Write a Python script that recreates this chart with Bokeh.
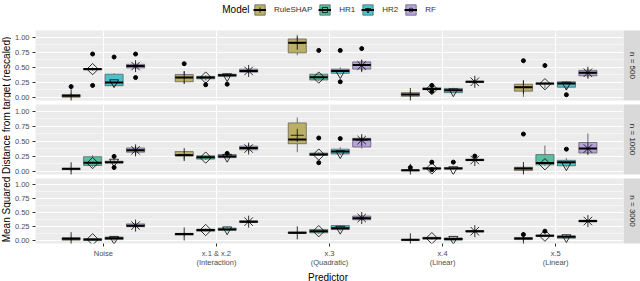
import math
from bokeh.plotting import figure
from bokeh.models import (ColumnDataSource, Range1d, FixedTicker, Legend, LegendItem, Label,
                          NumeralTickFormatter)
from bokeh.layouts import row, column
from bokeh.transform import dodge
from bokeh.embed import file_html
from bokeh.resources import INLINE

# ---------------- data ----------------
PREDICTORS = ["Noise", "x.1 & x.2\n(Interaction)", "x.3\n(Quadratic)", "x.4\n(Linear)", "x.5\n(Linear)"]
XI = [1, 2, 3, 4, 5]
MODELS = ["RuleSHAP", "HR1", "HR2", "RF"]
PANELS = ["n = 500", "n = 1000", "n = 3000"]
COLORS = ["#B6A856", "#45BA98", "#38BCC8", "#AF9AD9"]
MARKERS = ["cross", "square", "inverted_triangle", "asterisk"]

# rows = models (RuleSHAP, HR1, HR2, RF), columns = predictors
q1_500 = [[0.005, 0.26, 0.74, 0.02, 0.105], [0.455, 0.31, 0.29, 0.13, 0.22],
          [0.195, 0.35, 0.40, 0.08, 0.17], [0.49, 0.42, 0.47, 0.25, 0.36]]
med_500 = [[0.03, 0.33, 0.905, 0.05, 0.17], [0.47, 0.33, 0.335, 0.14, 0.23],
           [0.25, 0.37, 0.44, 0.12, 0.23], [0.52, 0.44, 0.54, 0.26, 0.41]]
q3_500 = [[0.05, 0.38, 0.97, 0.08, 0.22], [0.48, 0.35, 0.385, 0.16, 0.235],
          [0.385, 0.385, 0.47, 0.15, 0.26], [0.55, 0.47, 0.59, 0.27, 0.45]]
lo_500 = [[0.0, 0.24, 0.70, 0.0, 0.01], [0.44, 0.28, 0.27, 0.11, 0.15],
          [0.17, 0.33, 0.38, 0.07, 0.12], [0.46, 0.40, 0.42, 0.22, 0.33]]
hi_500 = [[0.07, 0.43, 1.04, 0.10, 0.29], [0.50, 0.37, 0.40, 0.18, 0.25],
          [0.40, 0.40, 0.50, 0.16, 0.27], [0.58, 0.49, 0.62, 0.30, 0.48]]
mean_500 = [[0.03, 0.33, 0.90, 0.05, 0.17], [0.47, 0.33, 0.33, 0.14, 0.22],
            [0.25, 0.35, 0.40, 0.10, 0.21], [0.52, 0.44, 0.53, 0.26, 0.41]]
out_500 = [[(1, 0.18), (2, 0.56), (5, 0.61)],
           [(1, 0.72), (1, 0.20), (2, 0.21), (3, 0.78), (4, 0.20), (4, 0.10), (5, 0.53)],
           [(1, 0.67), (2, 0.22), (3, 0.78), (3, 0.26), (5, 0.045)],
           [(1, 0.72), (1, 0.33), (3, 0.81)]]

q1_1000 = [[0.03, 0.26, 0.46, 0.01, 0.015], [0.10, 0.205, 0.27, 0.045, 0.11],
           [0.14, 0.23, 0.29, 0.045, 0.095], [0.32, 0.36, 0.405, 0.18, 0.305]]
med_1000 = [[0.045, 0.27, 0.53, 0.02, 0.05], [0.145, 0.235, 0.28, 0.05, 0.14],
            [0.155, 0.25, 0.33, 0.05, 0.155], [0.35, 0.39, 0.53, 0.19, 0.38]]
q3_1000 = [[0.05, 0.33, 0.805, 0.025, 0.07], [0.245, 0.26, 0.305, 0.06, 0.28],
           [0.17, 0.28, 0.37, 0.065, 0.185], [0.39, 0.42, 0.55, 0.205, 0.48]]
lo_1000 = [[0.0, 0.20, 0.32, 0.0, 0.0], [0.07, 0.19, 0.26, 0.04, 0.09],
           [0.12, 0.21, 0.27, 0.03, 0.07], [0.28, 0.33, 0.38, 0.17, 0.28]]
hi_1000 = [[0.06, 0.34, 0.895, 0.04, 0.10], [0.27, 0.27, 0.32, 0.07, 0.43],
           [0.20, 0.30, 0.40, 0.08, 0.22], [0.42, 0.45, 0.58, 0.22, 0.63]]
mean_1000 = [[0.045, 0.28, 0.60, 0.02, 0.05], [0.14, 0.23, 0.28, 0.05, 0.12],
             [0.16, 0.24, 0.30, 0.035, 0.10], [0.35, 0.38, 0.52, 0.19, 0.38]]
out_1000 = [[(4, 0.065), (5, 0.62)],
            [(3, 0.555), (3, 0.145), (4, 0.155), (4, 0.03)],
            [(1, 0.25), (1, 0.065), (2, 0.30), (3, 0.545), (4, 0.155), (5, 0.37)],
            [(4, 0.255)]]

q1_3000 = [[0.01, 0.10, 0.13, 0.005, 0.02], [0.005, 0.17, 0.14, 0.03, 0.08],
           [0.02, 0.19, 0.20, 0.01, 0.045], [0.25, 0.325, 0.375, 0.155, 0.335]]
med_3000 = [[0.035, 0.12, 0.14, 0.015, 0.04], [0.02, 0.19, 0.17, 0.045, 0.09],
            [0.045, 0.20, 0.22, 0.03, 0.07], [0.265, 0.34, 0.40, 0.17, 0.35]]
q3_3000 = [[0.055, 0.13, 0.155, 0.02, 0.055], [0.035, 0.205, 0.20, 0.06, 0.10],
           [0.065, 0.225, 0.27, 0.05, 0.085], [0.30, 0.355, 0.44, 0.18, 0.365]]
lo_3000 = [[0.0, 0.08, 0.12, 0.0, 0.0], [0.0, 0.16, 0.12, 0.02, 0.07],
           [0.0, 0.17, 0.18, 0.0, 0.03], [0.22, 0.31, 0.36, 0.14, 0.32]]
hi_3000 = [[0.07, 0.14, 0.16, 0.05, 0.07], [0.05, 0.22, 0.21, 0.07, 0.11],
           [0.08, 0.24, 0.28, 0.06, 0.10], [0.33, 0.37, 0.46, 0.20, 0.38]]
mean_3000 = [[0.035, 0.12, 0.14, 0.015, 0.04], [0.025, 0.19, 0.17, 0.045, 0.09],
             [0.03, 0.20, 0.21, 0.03, 0.06], [0.27, 0.34, 0.405, 0.17, 0.35]]
out_3000 = [[(5, 0.11)], [(5, 0.17)], [], []]

STATS = [
    (q1_500, med_500, q3_500, lo_500, hi_500, mean_500, out_500),
    (q1_1000, med_1000, q3_1000, lo_1000, hi_1000, mean_1000, out_1000),
    (q1_3000, med_3000, q3_3000, lo_3000, hi_3000, mean_3000, out_3000),
]

# ---------------- style / layout ----------------
FONT = "Liberation Sans"
OFFSETS = [-0.285, -0.095, 0.095, 0.285]
BW = 0.16
MSIZE = [13, 8, 9, 12]
W = 640
YLAB_W = 11
STRIP_W = 17
PANEL_W = W - YLAB_W - STRIP_W
BL = 21
FRAME_H = 70
TOPS = [1, 2, 2]
BOTTOMS = [2, 2, 22]
LEG_H = 29
XLAB_H = 11


def stats_source(k, j):
    q1, med, q3, lo, hi, mean, outs = STATS[k]
    return ColumnDataSource(dict(x=XI, q1=q1[j], med=med[j], q3=q3[j], lo=lo[j], hi=hi[j], mean=mean[j]))


def box_glyphs(p, src, j):
    off = OFFSETS[j]
    rw1 = p.segment(x0=dodge("x", off), x1=dodge("x", off), y0="lo", y1="q1", source=src,
                    line_color="#333333", line_width=0.7)
    rw2 = p.segment(x0=dodge("x", off), x1=dodge("x", off), y0="q3", y1="hi", source=src,
                    line_color="#333333", line_width=0.7)
    rb = p.vbar(x=dodge("x", off), width=BW, bottom="q1", top="q3", source=src,
                fill_color=COLORS[j], fill_alpha=0.9, line_color="#555555", line_width=0.7)
    rm = p.segment(x0=dodge("x", off - BW / 2), x1=dodge("x", off + BW / 2), y0="med", y1="med",
                   source=src, line_color="black", line_width=2)
    return rb, rm


def mean_glyph(p, src, j):
    return p.scatter(x=dodge("x", OFFSETS[j]), y="mean", source=src, marker=MARKERS[j], size=MSIZE[j],
                     angle=(math.pi / 4 if MARKERS[j] == "square" else 0),
                     fill_color=None, line_color="black", line_width=0.8)


def make_panel(k):
    outs = STATS[k][6]
    h = TOPS[k] + FRAME_H + BOTTOMS[k]
    p = figure(width=PANEL_W, height=h, x_range=Range1d(0.4, 5.6), y_range=Range1d(-0.05, 1.11),
               output_backend="svg", toolbar_location=None,
               min_border_left=BL, min_border_right=0, min_border_top=TOPS[k],
               min_border_bottom=BOTTOMS[k], background_fill_color="#EBEBEB",
               border_fill_color="white", outline_line_color=None)
    xt = FixedTicker(ticks=XI)
    yt = FixedTicker(ticks=[0, 0.25, 0.5, 0.75, 1.0], minor_ticks=[0.125, 0.375, 0.625, 0.875])
    p.xaxis.ticker = xt
    p.yaxis.ticker = yt
    p.xgrid.ticker = xt
    p.ygrid.ticker = yt
    p.xgrid.grid_line_color = "white"
    p.xgrid.grid_line_width = 1.1
    p.ygrid.grid_line_color = "white"
    p.ygrid.grid_line_width = 1.1
    p.ygrid.minor_grid_line_color = "white"
    p.ygrid.minor_grid_line_width = 0.5
    p.yaxis.formatter = NumeralTickFormatter(format="0.00")
    for ax in (p.xaxis[0], p.yaxis[0]):
        ax.axis_line_color = None
        ax.major_tick_line_color = "#333333"
        ax.major_tick_out = 3
        ax.major_tick_in = 0
        ax.minor_tick_line_color = None
        ax.major_label_text_font = FONT
        ax.major_label_text_font_size = "7.5px"
        ax.major_label_text_color = "#4D4D4D"
        ax.major_label_standoff = 2
    if k == 2:
        p.xaxis.major_label_overrides = {x: lab for x, lab in zip(XI, PREDICTORS)}
        p.xaxis.major_label_text_line_height = 1.1
    else:
        p.xaxis.visible = False

    for j, m in enumerate(MODELS):
        box_glyphs(p, stats_source(k, j), j)
        osrc = ColumnDataSource(dict(x=[o[0] for o in outs[j]], y=[o[1] for o in outs[j]]))
        p.scatter(x=dodge("x", OFFSETS[j]), y="y", source=osrc, size=4, marker="circle",
                  fill_color="black", line_color="black")
    for j, m in enumerate(MODELS):
        mean_glyph(p, stats_source(k, j), j)
    return p


def make_strip(k):
    h = TOPS[k] + FRAME_H + BOTTOMS[k]
    s = figure(width=STRIP_W, height=h, x_range=Range1d(0, 1), y_range=Range1d(0, 1),
               output_backend="svg", toolbar_location=None,
               min_border_left=0, min_border_right=0, min_border_top=TOPS[k],
               min_border_bottom=BOTTOMS[k], background_fill_color="#D9D9D9",
               border_fill_color="white", outline_line_color=None)
    s.axis.visible = False
    s.grid.visible = False
    s.add_layout(Label(x=0.5, y=0.5, text=PANELS[k], angle=-math.pi / 2, text_align="center",
                       text_baseline="middle", text_font=FONT, text_font_size="8px",
                       text_color="#1A1A1A"))
    return s


def blank(w, h, yr=None):
    f = figure(width=w, height=h, x_range=Range1d(0, w), y_range=yr or Range1d(0, h),
               output_backend="svg", toolbar_location=None, min_border=0,
               min_border_left=0, min_border_right=0, min_border_top=0, min_border_bottom=0,
               outline_line_color=None, background_fill_color="white", border_fill_color="white")
    f.axis.visible = False
    f.grid.visible = False
    return f


# legend strip: key glyphs come from renderers whose data lie outside this strip's view
leg_fig = blank(W, LEG_H, Range1d(5, 6))
items = []
for j, m in enumerate(MODELS):
    src = stats_source(0, j)
    rb, rm = box_glyphs(leg_fig, src, j)
    rk = mean_glyph(leg_fig, src, j)
    items.append(LegendItem(label=m, renderers=[rb, rm, rk]))
leg = Legend(items=items, orientation="horizontal", location=(253, LEG_H - 16),
             glyph_width=13, glyph_height=13, label_height=13, label_width=5, label_standoff=8,
             spacing=6, padding=0, margin=0, border_line_color=None,
             background_fill_alpha=0, label_text_font=FONT, label_text_font_size="8px",
             label_text_color="#333333")
leg_fig.add_layout(leg, "center")
leg_fig.add_layout(Label(x=249, y=LEG_H - 9, x_units="screen", y_units="screen", text="Model",
                         text_align="right", text_baseline="middle",
                         text_font=FONT, text_font_size="10px", text_color="black"))

PANELS_H = sum(TOPS) + 3 * FRAME_H + sum(BOTTOMS)
ylab = blank(YLAB_W, PANELS_H)
center_from_top = (TOPS[0] + (PANELS_H - BOTTOMS[2])) / 2
ylab.add_layout(Label(x=YLAB_W / 2 + 0.5, y=PANELS_H - center_from_top,
                      text="Mean Squared Distance from target (rescaled)", angle=math.pi / 2,
                      text_align="center", text_baseline="middle", text_font=FONT,
                      text_font_size="10px", text_color="black"))

xlab = blank(W, XLAB_H)
xlab.add_layout(Label(x=YLAB_W + BL + (PANEL_W - BL) / 2, y=XLAB_H / 2, text="Predictor",
                      text_align="center", text_baseline="middle", text_font=FONT,
                      text_font_size="10px", text_color="black"))

panels = column(*[row(make_panel(k), make_strip(k)) for k in range(3)])
layout = column(leg_fig, row(ylab, panels), xlab)

open("out.html", "w").write(file_html(layout, INLINE))
